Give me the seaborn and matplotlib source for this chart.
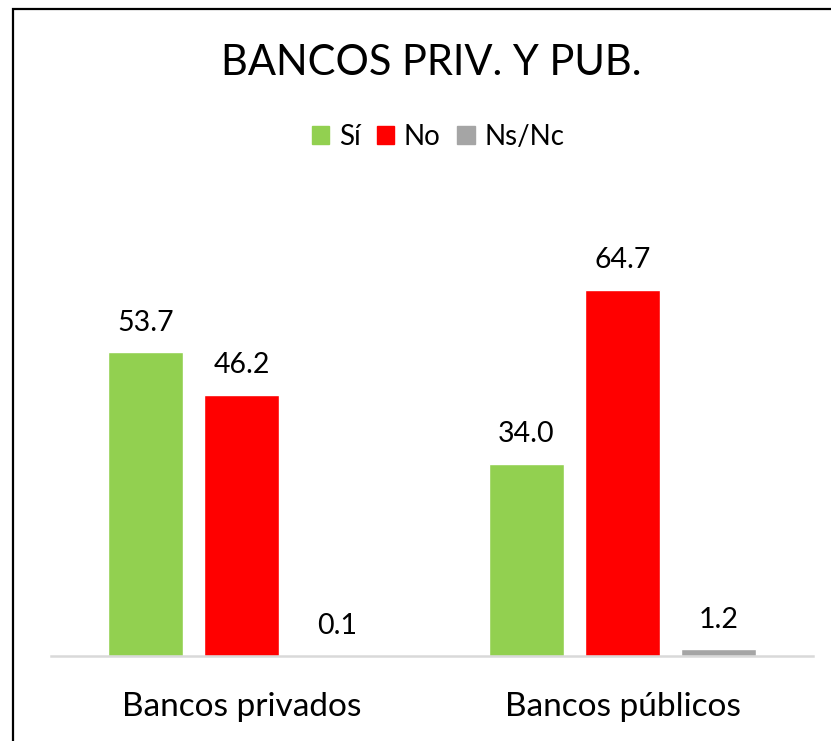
import pandas as pd
import matplotlib.pyplot as plt
import seaborn as sns
from matplotlib.patches import Rectangle

# chart values
categorias = ['Bancos privados', 'Bancos públicos']
respuestas = ['Sí', 'No', 'Ns/Nc']
si = [53.7, 34.0]
no = [46.2, 64.7]
ns_nc = [0.1, 1.2]
colores = ['#92D050', '#FF0000', '#A5A5A5']

df = pd.DataFrame({
    'categoria': categorias * 3,
    'respuesta': [r for r in respuestas for _ in categorias],
    'valor': si + no + ns_nc,
})

sns.set_theme(style='white')
plt.rcParams['font.family'] = ['Lato', 'DejaVu Sans']
plt.rcParams['text.color'] = 'black'
plt.rcParams['xtick.color'] = 'black'

fig = plt.figure(figsize=(8.31, 7.41), dpi=100)
ax = fig.add_axes([51 / 831, 85 / 741, 762 / 831, 452.6 / 741])

sns.barplot(data=df, x='categoria', y='valor', hue='respuesta',
            hue_order=respuestas, palette=colores, width=0.756, gap=0.21,
            saturation=1, ax=ax, legend=False)

for cont in ax.containers:
    ax.bar_label(cont, fmt='%.1f', padding=12, fontsize=20.5, color='black')

ax.set_xlim(-0.5, 1.5)
ax.set_ylim(0, 80)
ax.set_xlabel('')
ax.set_ylabel('')
ax.set_yticks([])
ax.tick_params(axis='x', length=0, labelsize=24, pad=26, labelcolor='black')
for s in ['left', 'right', 'top']:
    ax.spines[s].set_visible(False)
ax.spines['bottom'].set_color('#D9D9D9')
ax.spines['bottom'].set_linewidth(1.8)

# legend
handles = [Rectangle((0, 0), 1, 1, color=c) for c in colores]
fig.legend(handles, respuestas, loc='center', bbox_to_anchor=(438 / 831, 1 - 137 / 741),
           ncol=3, frameon=False, fontsize=20, handlelength=0.62, handleheight=0.62,
           handletextpad=0.35, columnspacing=0.6, labelcolor='black')

fig.text(431 / 831, 1 - 63 / 741, 'BANCOS PRIV. Y PUB.', ha='center', va='center',
         fontsize=30, color='black')

# outer frame (cropped on right and bottom)
fig.patches.append(Rectangle((13 / 831, -0.1), 1.2, 0.1 + 732 / 741, transform=fig.transFigure,
                             fill=False, edgecolor='black', linewidth=1.6))

fig.savefig('out.png', dpi=100)
